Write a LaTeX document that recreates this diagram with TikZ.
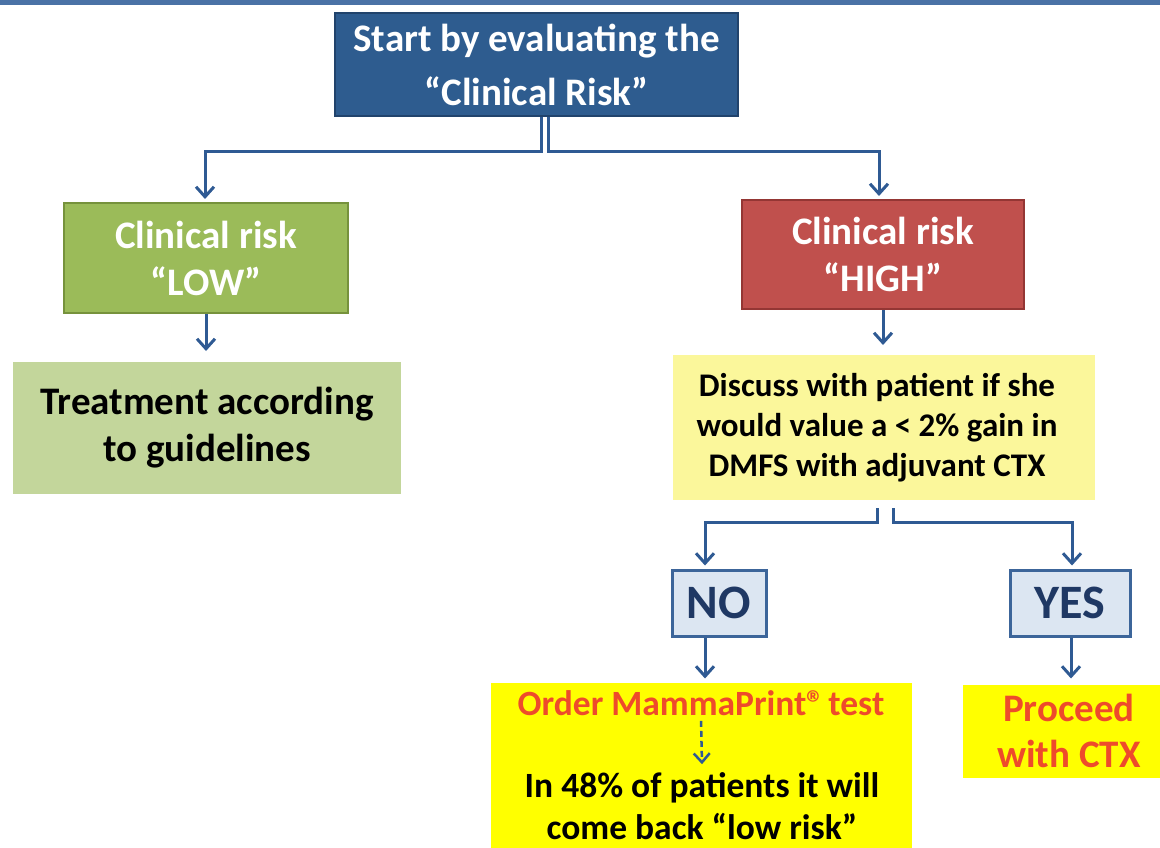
\documentclass[tikz,border=0pt]{standalone}
\usepackage{fontspec}
\setmainfont{Carlito}
\usetikzlibrary{arrows.meta,calc}
\definecolor{topline}{HTML}{4A72A6}
\definecolor{startfill}{HTML}{2E5C8F}
\definecolor{startdraw}{HTML}{21436C}
\definecolor{conn}{HTML}{2F5A93}
\definecolor{lowfill}{HTML}{9BBB59}
\definecolor{lowdraw}{HTML}{76923C}
\definecolor{treatfill}{HTML}{C3D69B}
\definecolor{highfill}{HTML}{C0504D}
\definecolor{highdraw}{HTML}{943634}
\definecolor{discfill}{HTML}{FBF79B}
\definecolor{ynfill}{HTML}{DCE6F2}
\definecolor{yndraw}{HTML}{3C659A}
\definecolor{yntext}{HTML}{1F3864}
\definecolor{yel}{HTML}{FFFF00}
\definecolor{redtxt}{HTML}{EE4B2B}
\tikzset{
  box/.style={rectangle, inner sep=0pt, align=center, font=\bfseries},
  arr/.style={draw=conn, line width=3pt, -{Straight Barb[length=10pt,width=18pt,line width=3pt]}, shorten >=3pt},
}
\begin{document}
\begin{tikzpicture}[x=1pt,y=-1pt]
\useasboundingbox (0,0) rectangle (1160,848);
\draw[topline, line width=5pt] (0,3) -- (1160,3);
% boxes
\node[box, fill=startfill, draw=startdraw, line width=2pt, minimum width=403pt, minimum height=103pt, text=white,
  font=\fontsize{39}{54}\selectfont\bfseries] (start) at (536.5,64.5) {Start by evaluating the\\“Clinical Risk”};
\node[box, fill=lowfill, draw=lowdraw, line width=2pt, minimum width=284pt, minimum height=110pt, text=white,
  font=\fontsize{39}{47}\selectfont\bfseries] (low) at (206,258) {Clinical risk\\“LOW”};
\node[box, fill=treatfill, minimum width=388pt, minimum height=132pt, text=black,
  font=\fontsize{39}{47}\selectfont\bfseries] (treat) at (207,428) {Treatment according\\to guidelines};
\node[box, fill=highfill, draw=highdraw, line width=2pt, minimum width=282pt, minimum height=109pt, text=white,
  font=\fontsize{39}{47}\selectfont\bfseries] (high) at (883,254.5) {Clinical risk\\“HIGH”};
\node[box, fill=discfill, minimum width=422pt, minimum height=145pt] (disc) at (884,427.5) {};
\node[box, text=black, font=\fontsize{33}{40}\selectfont\bfseries] (disctxt) at (877,427.5) {Discuss with patient if she\\would value a < 2\% gain in\\DMFS with adjuvant CTX};
\node[box, fill=ynfill, draw=yndraw, line width=3pt, minimum width=94pt, minimum height=66pt, text=yntext,
  font=\fontsize{48}{50}\selectfont\bfseries] (no) at (719,603) {NO};
\node[box, fill=ynfill, draw=yndraw, line width=3pt, minimum width=120pt, minimum height=66pt, text=yntext,
  font=\fontsize{48}{50}\selectfont\bfseries] (yes) at (1070,603) {YES};
\node[box, fill=yel, minimum width=421pt, minimum height=165pt] (y1) at (701.5,765.5) {};
\node[box, text=redtxt, font=\fontsize{35.5}{40}\selectfont\bfseries] (order) at (701,703) {Order MammaPrint®\kern-4pt{} test};
\node[box, text=black, font=\fontsize{35.5}{42}\selectfont\bfseries] (pct) at (702,806) {In 48\% of patients it will\\come back “low risk”};
\node[box, fill=yel, minimum width=197pt, minimum height=93pt] (y2) at (1061.5,731.5) {};
\node[box, text=redtxt, font=\fontsize{39}{46}\selectfont\bfseries] (proc) at (1069,731) {Proceed\\with CTX};
% connectors
\coordinate (sL) at ($(start.south)+(4.5,0)$);
\coordinate (sR) at ($(start.south)+(11.5,0)$);
\draw[arr] (sL) -- ++(0,35) -| ([xshift=-1pt]low.north);
\draw[arr] (sR) -- ++(0,35) -| ([xshift=-4pt]high.north);
\draw[arr] (low.south) -- ++(0,40);
\draw[arr] (high.south) -- ++(0,38);
\coordinate (dL) at ($(disc.south)+(-7,8)$);
\coordinate (dR) at ($(disc.south)+(9,8)$);
\draw[arr] (dL) -- ++(0,14) -| ([xshift=-14pt]no.north);
\draw[arr] (dR) -- ++(0,14) -| ([xshift=2pt]yes.north);
\draw[arr] ([xshift=-14pt]no.south) -- ++(0,44);
\draw[arr] ([xshift=1pt]yes.south) -- ++(0,44);
\draw[draw=conn, line width=2.5pt, dashed, dash pattern=on 6pt off 4pt, -{Straight Barb[length=9pt,width=16pt,line width=2.5pt]}] ([yshift=-5pt]order.south) -- ([yshift=8pt]pct.north);
\end{tikzpicture}
\end{document}
